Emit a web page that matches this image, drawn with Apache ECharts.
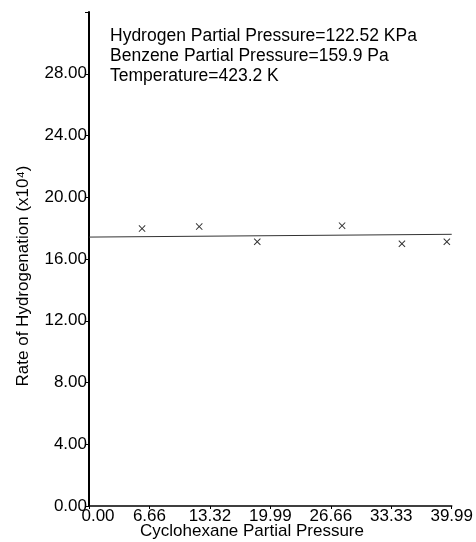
<!DOCTYPE html>
<html><head><meta charset="utf-8">
<script src="https://cdn.jsdelivr.net/npm/echarts@6/dist/echarts.min.js"></script>
<style>html,body{margin:0;padding:0;background:#fff}#c{width:476px;height:542px}</style>
</head><body><div id="c"></div>
<script>
const pressure = [5.85, 12.15, 18.55, 27.9, 34.5, 39.45];
const rate = [17.97, 18.1, 17.12, 18.16, 16.99, 17.12];
const fitX = [0, 39.99];
const fitY = [17.42, 17.6];
const xTickLabels = ['0.00','6.66','13.32','19.99','26.66','33.33','39.99'];
const yTickLabels = ['0.00','4.00','8.00','12.00','16.00','20.00','24.00','28.00'];
const notes = ['Hydrogen Partial Pressure=122.52 KPa','Benzene Partial Pressure=159.9 Pa','Temperature=423.2 K'];
const xName = 'Cyclohexane Partial Pressure';
const yName = 'Rate of Hydrogenation (x10\u2074)';

const font = '"Liberation Sans", Arial, sans-serif';
const chart = echarts.init(document.getElementById('c'), null, {renderer:'canvas'});
const xSym = 'path://M0,1L1,0L5,4L9,0L10,1L6,5L10,9L9,10L5,6L1,10L0,9L4,5Z';
chart.setOption({
  animation:false,
  backgroundColor:'#fff',
  grid:{left:89, right:23, top:12, bottom:36, containLabel:false},
  xAxis:{type:'value', min:0, max:39.99, interval:6.665,
    axisLine:{show:true, lineStyle:{color:'#000', width:1.5}},
    axisTick:{show:true, length:3, lineStyle:{color:'#000'}},
    splitLine:{show:false},
    axisLabel:{color:'#000', fontFamily:font, fontSize:17, margin:2,
      formatter:v=>{const i=Math.round(v/6.665); const t=xTickLabels[i] ?? ''; return i===0 ? '{f|'+t+'}' : t;},
      rich:{f:{fontFamily:font, fontSize:17, color:'#000', padding:[0,0,0,18]}}},
  },
  yAxis:{type:'value', min:0, max:32, interval:4,
    axisLine:{show:true, lineStyle:{color:'#000', width:2}},
    axisTick:{show:true, length:4, lineStyle:{color:'#000'}},
    splitLine:{show:false},
    axisLabel:{color:'#000', fontFamily:font, fontSize:17, margin:2,
      formatter:v=>yTickLabels[Math.round(v/4)] ?? ''},
  },
  graphic:[
    {type:'text', left:110, top:26, style:{text:notes.join('\n'), fontFamily:font, fontSize:17.5, lineHeight:20, fill:'#000'}},
    {type:'text', x:23, y:276, rotation:Math.PI/2, style:{text:yName, fontFamily:font, fontSize:17, fill:'#000', textAlign:'center', textVerticalAlign:'middle'}},
    {type:'text', x:252, y:531, style:{text:xName, fontFamily:font, fontSize:17, fill:'#000', textAlign:'center', textVerticalAlign:'middle'}}
  ],
  series:[
    {type:'line', data:fitX.map((x,i)=>[x,fitY[i]]), symbol:'none', lineStyle:{color:'#333', width:1}},
    {type:'scatter', data:pressure.map((x,i)=>[x,rate[i]]), symbol:xSym, symbolSize:7, itemStyle:{color:'#000'}}
  ]
});
</script></body></html>
